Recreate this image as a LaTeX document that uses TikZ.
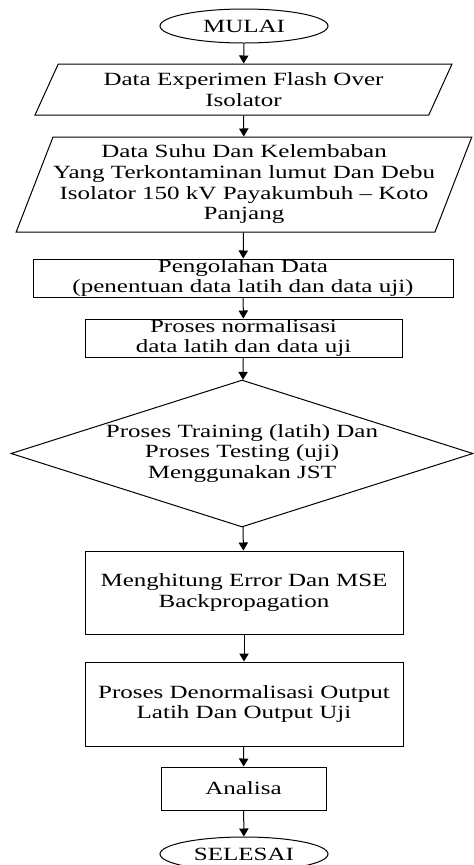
\documentclass[tikz,border=0pt]{standalone}
\usepackage{fontspec}
\setmainfont{Liberation Serif}[FakeStretch=1.34]
\usetikzlibrary{shapes.geometric,arrows.meta}

\tikzset{every picture/.style={line width=0.75pt}}
\tikzset{
  terminal/.style={draw, ellipse, inner sep=0pt, minimum width=126pt, minimum height=25.5pt},
  inputbox/.style={draw, trapezium, trapezium stretches body=true, inner sep=0pt, align=center},
  procbox/.style={draw, rectangle, inner sep=0pt, align=center},
  decbox/.style={draw, diamond, inner sep=0pt, align=center},
  arr/.style={-{Triangle[length=6pt,width=7pt]}}
}

\begin{document}
\begin{tikzpicture}[x=0.75pt,y=0.75pt,yscale=-1,xscale=1,font=\fontsize{14}{15.5}\selectfont]
%set diagram left start at 0, and has height of 865
\useasboundingbox (0,0) rectangle (474,865);

%Shape: Ellipse
\node [terminal] (mulai) at (244,26) {MULAI};
%Shape: Parallelogram
\node [inputbox, trapezium left angle=55.5, trapezium right angle=124.5, minimum width=312.75pt, minimum height=38.25pt] (expdata) at (243.5,89.5) {Data Experimen Flash Over\\Isolator};
%Shape: Parallelogram
\node [inputbox, trapezium left angle=65, trapezium right angle=115, minimum width=328.5pt, minimum height=71.25pt] (suhudata) at (244,184.5) {Data Suhu Dan Kelembaban\\Yang Terkontaminan lumut Dan Debu\\Isolator 150 kV Payakumbuh -- Koto\\Panjang};
%Shape: Rectangle
\node [procbox, minimum width=315pt, minimum height=28.5pt] (olah) at (243,278) {Pengolahan Data\\(penentuan data latih dan data uji)};
%Shape: Rectangle
\node [procbox, minimum width=237.75pt, minimum height=28.5pt] (norm) at (243.5,338) {Proses normalisasi\\data latih dan data uji};
%Shape: Diamond
\node [decbox, aspect=3.12, minimum width=346.5pt, minimum height=110.25pt] (jst) at (242,453.5) {Proses Training (latih) Dan\\Proses Testing (uji)\\Menggunakan JST};
%Shape: Rectangle
\node [procbox, minimum width=238.5pt, minimum height=62.25pt] (mse) at (244,592.5) {Menghitung Error Dan MSE\\Backpropagation};
%Shape: Rectangle
\node [procbox, minimum width=238.5pt, minimum height=63pt] (denorm) at (244,704) {Proses Denormalisasi Output\\Latih Dan Output Uji};
%Shape: Rectangle
\node [procbox, minimum width=123.75pt, minimum height=32.25pt] (analisa) at (243.5,788.5) {Analisa};
%Shape: Ellipse
\node [terminal] (selesai) at (244,854) {SELESAI};

%Straight Lines
\draw [arr] (mulai) -- (expdata);
\draw [arr] (expdata) -- (suhudata);
\draw [arr] (suhudata) -- (olah);
\draw [arr] (olah) -- (norm);
\draw [arr] (norm) -- (jst);
\draw [arr] (jst) -- (mse);
\draw [arr] (mse) -- (denorm);
\draw [arr] (denorm) -- (analisa);
\draw [arr] (analisa) -- (selesai);

\end{tikzpicture}
\end{document}
